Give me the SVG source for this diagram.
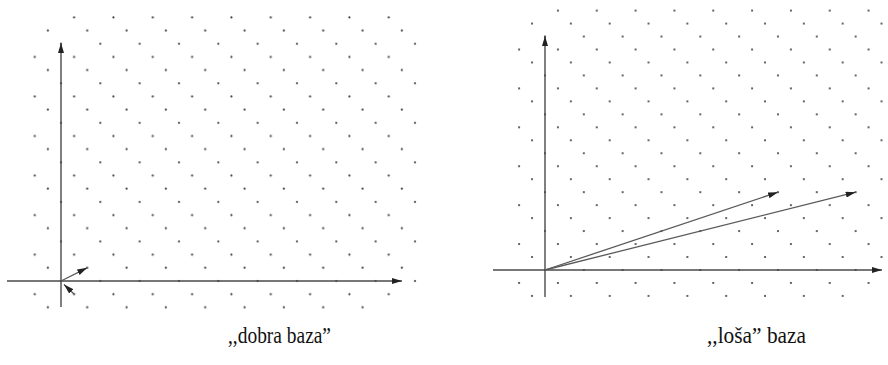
<svg xmlns="http://www.w3.org/2000/svg" width="888" height="365" viewBox="0 0 888 365">
<style>
.axis{stroke:#4a4a4a;stroke-width:1.4;fill:none}
.vec{stroke:#5a5a5a;stroke-width:1.3;fill:none}
.dot{fill:#444}
.cap{font-family:'Liberation Serif','DejaVu Serif',serif;font-size:24px;fill:#111}
</style>
<defs>
<marker id="ah" viewBox="0 0 10 6" refX="10" refY="3" markerWidth="10" markerHeight="6" orient="auto" markerUnits="userSpaceOnUse">
<path d="M0,0 L10,3 L0,6 z" fill="#222"/>
</marker>
<pattern id="latL" patternUnits="userSpaceOnUse" x="55" y="275" width="39.33" height="39.54">
<circle class="dot" cx="6" cy="6" r="1.1"/>
<circle class="dot" cx="19.11" cy="19.18" r="1.1"/>
<circle class="dot" cx="32.22" cy="32.36" r="1.1"/>
</pattern>
<pattern id="latR" patternUnits="userSpaceOnUse" x="539" y="264" width="38.83" height="38.91">
<circle class="dot" cx="6" cy="6" r="1.1"/>
<circle class="dot" cx="18.94" cy="18.97" r="1.1"/>
<circle class="dot" cx="31.88" cy="31.94" r="1.1"/>
</pattern>
</defs>
<rect width="888" height="365" fill="#fff"/>
<g id="left-lattice">
<path d="M30,24 H68 V11 H418 V301 H380 V313 H30 Z" fill="url(#latL)"/>
</g>
<g id="right-lattice">
<path d="M515,17 H540 V4 H887 V290 H860 V302 H515 Z" fill="url(#latR)"/>
</g>
<g id="connectors">
<path class="axis" d="M7,281 H402" marker-end="url(#ah)"/>
<path class="axis" d="M61,307 V43" marker-end="url(#ah)"/>
<path class="vec" d="M61,281 L87.2,267.8" marker-end="url(#ah)"/>
<path class="vec" d="M74,294 L64,284.5" marker-end="url(#ah)"/>
<path class="axis" d="M493,270 H882" marker-end="url(#ah)"/>
<path class="axis" d="M545,297 V36" marker-end="url(#ah)"/>
<path class="vec" d="M545,270 L778,192.2" marker-end="url(#ah)"/>
<path class="vec" d="M545,270 L855.7,192.2" marker-end="url(#ah)"/>
</g>
<g id="caption-left"><text class="cap" font-family="Liberation Serif, serif" x="228" y="343" textLength="103" lengthAdjust="spacingAndGlyphs">,,dobra baza”</text></g>
<g id="caption-right"><text class="cap" font-family="Liberation Serif, serif" x="707" y="343" textLength="99" lengthAdjust="spacingAndGlyphs">,,loša” baza</text></g>
</svg>
